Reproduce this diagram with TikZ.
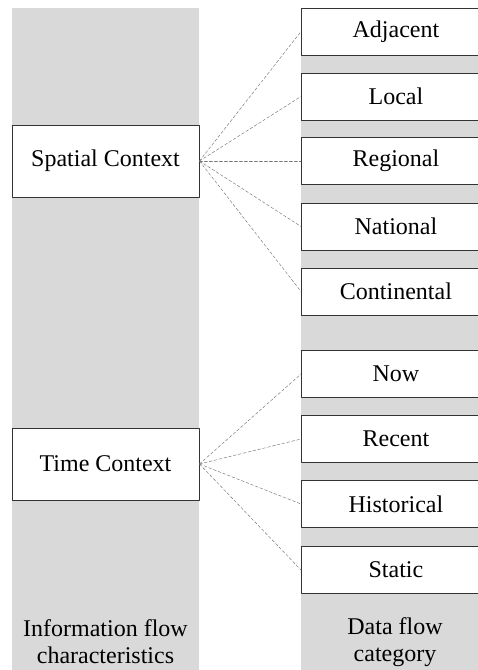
\documentclass[tikz,border=0pt]{standalone}
\usepackage{fontspec}
\setmainfont{Liberation Serif}
\usepackage{tikz}
\def\columnColor{black!15}
\def\boxLine{black!80}
\def\linkColor{black!55}

\begin{document}
\begin{tikzpicture}[x=1pt, y=-1pt, line cap=round, line join=round,
	font=\fontsize{24}{27}\selectfont,
	context/.style={draw=\boxLine, fill=white, line width=0.9pt, minimum width=187pt, minimum height=72pt, inner sep=0pt},
	category/.style={draw=\boxLine, fill=white, line width=0.9pt, minimum width=189pt, minimum height=47pt, inner sep=0pt, anchor=west},
	link/.style={\linkColor, densely dashed, line width=0.45pt}]
	\useasboundingbox (0,0) rectangle (478,670);
	\clip (0,0) rectangle (478,670);
	% grey columns
	\fill[\columnColor] (12,8) rectangle (199,670);
	\fill[\columnColor] (301,8) rectangle (490,670);
	% characteristics
	\node[context] (spatial) at (105.5,161) {Spatial Context};
	\node[context] (time) at (105.5,464) {Time Context};
	% categories
	\foreach \name/\y/\label in {adjacent/31.5/Adjacent, local/96.5/Local, regional/161/Regional, national/226.5/National, continental/291.5/Continental} {
		\node[category] (\name) at (301,\y) {\label};
		\draw[link] (spatial.east) -- (\name.west);
	}
	\foreach \name/\y/\label in {now/374/Now, recent/439/Recent, historical/504/Historical, static/570/Static} {
		\node[category] (\name) at (301,\y) {\label};
		\draw[link] (time.east) -- (\name.west);
	}
	% column titles
	\node[align=center] (infoflow) at (105.5,642) {Information flow\\characteristics};
	\node[align=center] (dataflow) at (395,642) {Data flow\\category};
\end{tikzpicture}
\end{document}
